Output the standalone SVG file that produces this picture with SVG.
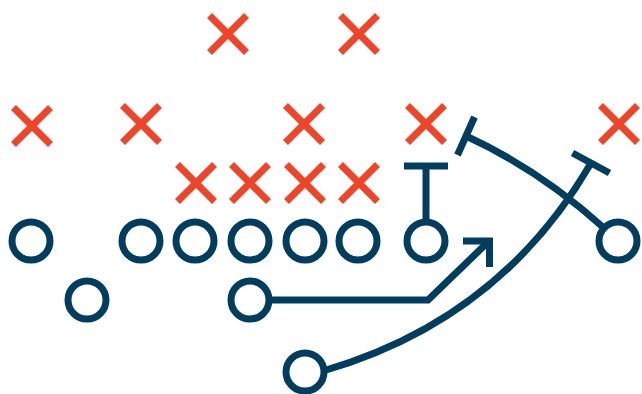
<svg xmlns="http://www.w3.org/2000/svg" xmlns:xlink="http://www.w3.org/1999/xlink" width="642" height="394" viewBox="0 0 642 394">
<style>
.x{stroke:#F04428;stroke-width:7;fill:none;stroke-linecap:butt}
.o{stroke:#003D5E;stroke-width:7;fill:#fff}
.r{stroke:#003D5E;stroke-width:7;fill:none;stroke-linecap:butt;stroke-linejoin:miter}
</style>
<defs>
<path id="xm" class="x" d="M-18.5 -18.5L18.5 18.5M18.5 -18.5L-18.5 18.5"/>
</defs>
<rect width="642" height="394" fill="#fff"/>
<g id="defense">
<g id="d1"><use xlink:href="#xm" x="228" y="34"/></g>
<g id="d2"><use xlink:href="#xm" x="359" y="34"/></g>
<g id="d3"><use xlink:href="#xm" x="32" y="126"/></g>
<g id="d4"><use xlink:href="#xm" x="141" y="124"/></g>
<g id="d5"><use xlink:href="#xm" x="304" y="124"/></g>
<g id="d6"><use xlink:href="#xm" x="426" y="124"/></g>
<g id="d7"><use xlink:href="#xm" x="619" y="124"/></g>
<g id="d8"><use xlink:href="#xm" x="196" y="183"/></g>
<g id="d9"><use xlink:href="#xm" x="250" y="183"/></g>
<g id="d10"><use xlink:href="#xm" x="305" y="183"/></g>
<g id="d11"><use xlink:href="#xm" x="359" y="183"/></g>
</g>
<g id="connectors">
<path class="r" d="M404 166H448M426 166V222"/>
<path class="r" d="M269 300H428L487 243"/>
<path class="r" d="M463 241H489.5V267"/>
<path class="r" d="M457.5 155L474.5 117M466 136Q540 170 604 228"/>
<path class="r" d="M572.5 153L609.5 173M323 371Q500 320 591 163"/>
</g>
<g id="offense">
<g id="o1"><circle class="o" cx="31" cy="241" r="19"/></g>
<g id="o2"><circle class="o" cx="141" cy="241" r="19"/></g>
<g id="o3"><circle class="o" cx="195" cy="241" r="19"/></g>
<g id="o4"><circle class="o" cx="250" cy="241" r="19"/></g>
<g id="o5"><circle class="o" cx="305" cy="241" r="19"/></g>
<g id="o6"><circle class="o" cx="358" cy="241" r="19"/></g>
<g id="o7"><circle class="o" cx="426" cy="241" r="19"/></g>
<g id="o8"><circle class="o" cx="618" cy="241" r="19"/></g>
<g id="o9"><circle class="o" cx="87" cy="300" r="19"/></g>
<g id="o10"><circle class="o" cx="250" cy="300" r="19"/></g>
<g id="o11"><circle class="o" cx="305" cy="372" r="19"/></g>
</g>
</svg>
